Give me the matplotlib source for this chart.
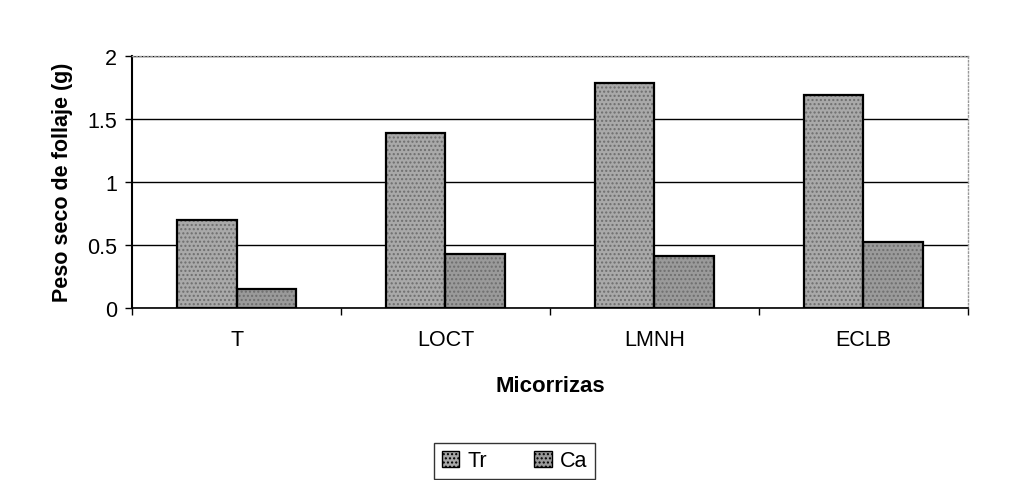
import numpy as np
import matplotlib.pyplot as plt

plt.rcParams["font.family"] = ["Liberation Sans", "DejaVu Sans"]

categories = ["T", "LOCT", "LMNH", "ECLB"]
tr_values = [0.70, 1.39, 1.78, 1.69]
ca_values = [0.15, 0.43, 0.41, 0.52]
series_names = ["Tr", "Ca"]

fig = plt.figure(figsize=(10.25, 4.81), dpi=100)
ax = fig.add_axes([0.129, 0.358, 0.815, 0.524])

x = np.arange(len(categories))
width = 1 / 3.5  # Excel gap width 150%

colors = ["#a9a9a9", "#9a9a9a"]
hatches = ["....", "...."]
for i, (vals, name) in enumerate(zip([tr_values, ca_values], series_names)):
    pos = x + (i - 0.5) * width
    ax.bar(pos, vals, width, color=colors[i], edgecolor="#6e6e6e",
           linewidth=0, hatch=hatches[i], zorder=3)
    ax.bar(pos, vals, width, facecolor="none", edgecolor="black",
           linewidth=1.6, zorder=4, label=name)

ax.set_xlim(-0.5, len(categories) - 0.5)
ax.set_ylim(0, 2)
ax.set_yticks([0, 0.5, 1, 1.5, 2])
ax.set_yticklabels(["0", "0.5", "1", "1.5", "2"])
ax.yaxis.grid(True, color="black", linewidth=1.0, zorder=1)
ax.set_axisbelow(True)

ax.set_xticks(x)
ax.set_xticklabels(categories)
ax.set_xticks(np.arange(len(categories) + 1) - 0.5, minor=True)
ax.tick_params(axis="x", which="major", length=0, pad=15, labelsize=15.5)
ax.tick_params(axis="x", which="minor", length=5, width=1, direction="out")
ax.tick_params(axis="y", length=5, width=1, direction="out", labelsize=15.5, pad=6)

for side in ["top", "right"]:
    ax.spines[side].set_color("#999999")
    ax.spines[side].set_linestyle(":")
    ax.spines[side].set_linewidth(1)
ax.spines["left"].set_linewidth(1.5)
ax.spines["bottom"].set_linewidth(1.2)

ax.set_ylabel("Peso seco de follaje (g)", fontsize=15.5, fontweight="bold", labelpad=10)
ax.set_xlabel("Micorrizas", fontsize=16, fontweight="bold", labelpad=18)

handles = [plt.Rectangle((0, 0), 1, 1, facecolor=colors[i], edgecolor="black",
                         hatch=hatches[i], linewidth=1) for i in range(2)]
fig.legend(handles, series_names, loc="center", bbox_to_anchor=(0.502, 0.04),
           ncol=2, fontsize=15.5, frameon=True, fancybox=False,
           edgecolor="black", handlelength=0.8, handleheight=0.8,
           columnspacing=2.2, handletextpad=0.4, borderpad=0.35)

fig.savefig("out.png", dpi=100)
